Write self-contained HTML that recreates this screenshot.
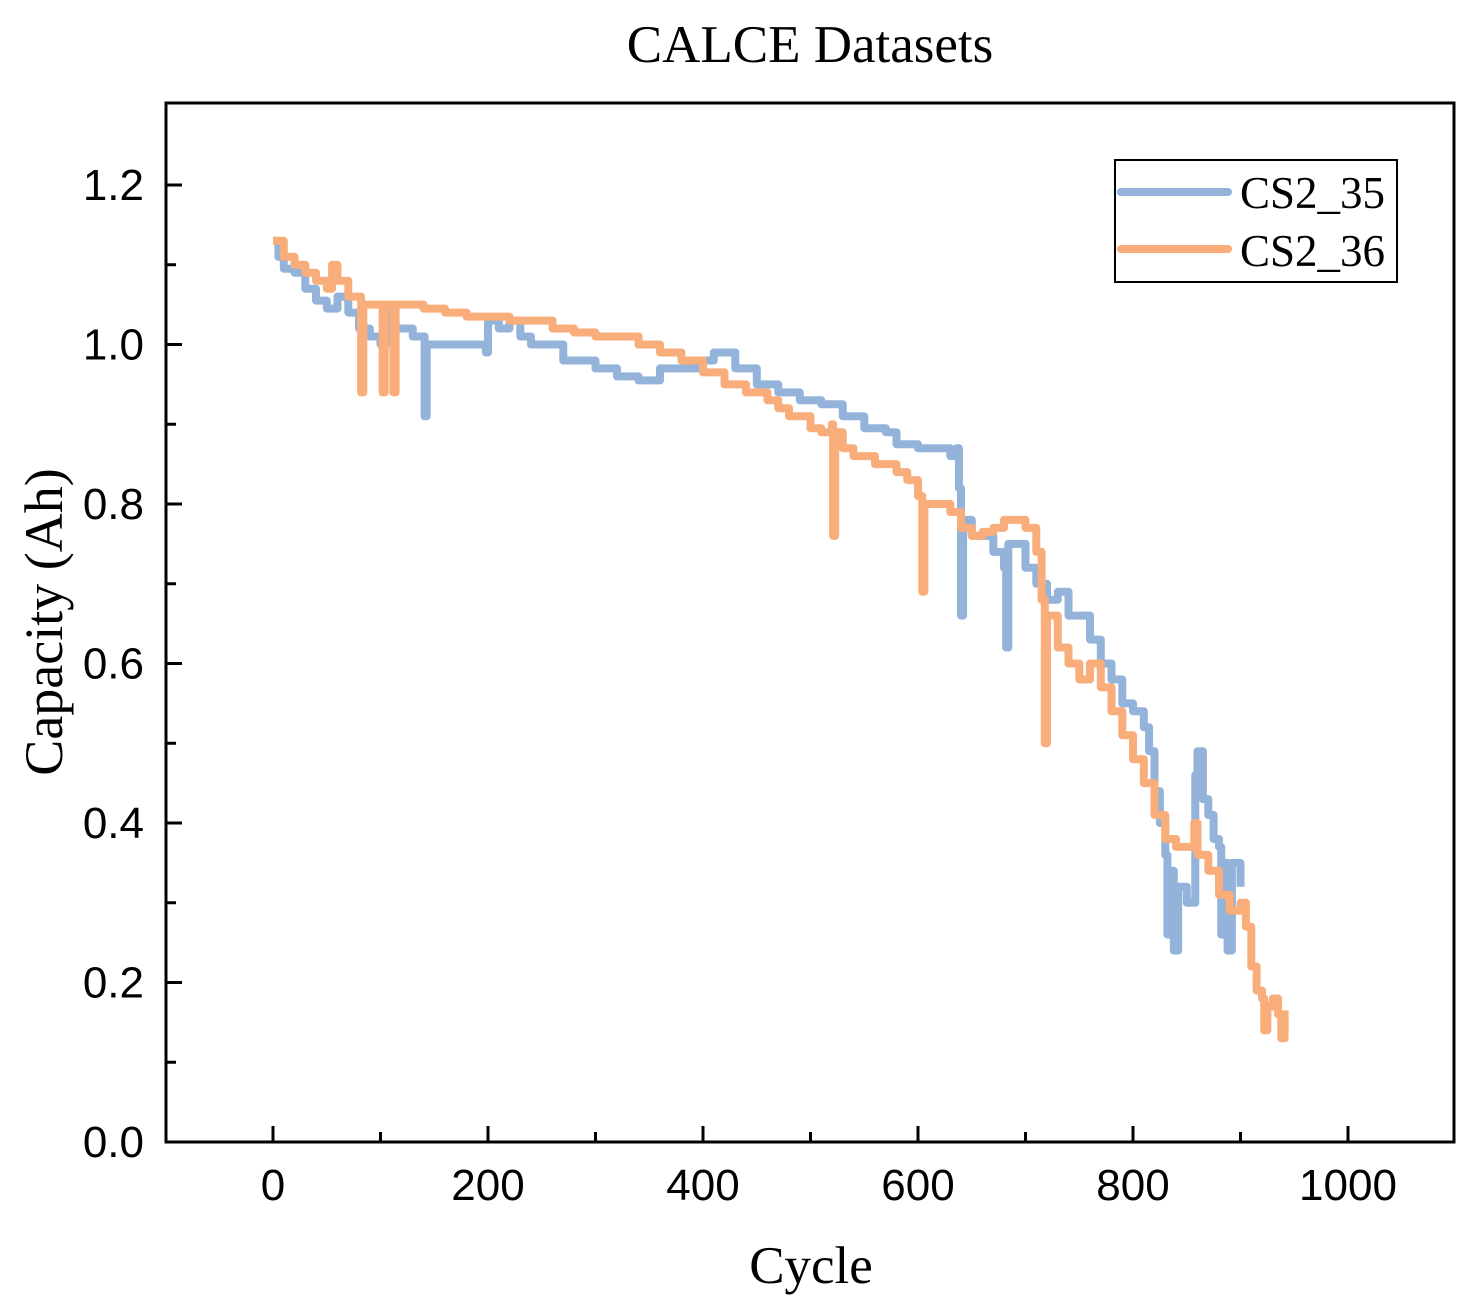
<!DOCTYPE html>
<html><head><meta charset="utf-8"><style>
body{margin:0;background:#fff}
svg{display:block}
.t{font-family:"Liberation Sans",sans-serif;font-size:44px;fill:#000}
.s{font-family:"Liberation Serif",serif;fill:#000}
</style></head><body>
<svg id="chart" width="1478" height="1314" viewBox="0 0 1478 1314" xmlns="http://www.w3.org/2000/svg">
<text class="s" x="810" y="62" font-size="53" text-anchor="middle">CALCE Datasets</text>
<g id="series"></g>
<rect x="166" y="103" width="1288" height="1039" fill="none" stroke="#000" stroke-width="3"/>
<g id="ticks"></g>
<text class="s" x="811" y="1283" font-size="53" text-anchor="middle">Cycle</text>
<text class="s" font-size="54" text-anchor="middle" transform="translate(62,622) rotate(-90)">Capacity (Ah)</text>
<g>
<rect x="1115" y="160" width="282" height="122" fill="#fff" stroke="#000" stroke-width="2"/>
<line x1="1121" y1="192" x2="1228" y2="192" stroke="#93b3da" stroke-width="8" stroke-linecap="round"/>
<text class="s" x="1240" y="208" font-size="45">CS2_35</text>
<line x1="1121" y1="249" x2="1228" y2="249" stroke="#f9ad7b" stroke-width="8" stroke-linecap="round"/>
<text class="s" x="1240" y="266" font-size="45">CS2_36</text>
</g>
</svg>
<script>
const xTicks=[0,200,400,600,800,1000];
const yTicks=[0.0,0.2,0.4,0.6,0.8,1.0,1.2];
const cs35Cycles=[0,5,10,20,30,40,50,60,70,80,90,100,105,110,120,130,140,141,143,160,180,198,200,210,220,230,240,260,270,300,320,340,360,380,400,410,430,450,470,490,510,530,550,570,580,600,620,630,636,638,640,642,650,670,680,682,684,700,710,720,730,740,760,770,780,790,800,810,815,820,825,830,832,835,838,842,850,855,858,860,865,870,875,880,882,885,888,892,900];
const cs35Cap=[1.13,1.11,1.095,1.09,1.07,1.055,1.045,1.06,1.04,1.02,1.01,1.0,1.04,1.02,1.02,1.01,1.01,0.91,1.0,1.0,1.0,0.99,1.03,1.02,1.03,1.01,1.0,1.0,0.98,0.97,0.96,0.955,0.97,0.97,0.98,0.99,0.97,0.95,0.94,0.93,0.925,0.91,0.895,0.89,0.875,0.87,0.87,0.86,0.87,0.82,0.66,0.78,0.76,0.74,0.72,0.62,0.75,0.72,0.7,0.68,0.69,0.66,0.63,0.6,0.58,0.55,0.54,0.52,0.49,0.44,0.4,0.36,0.26,0.34,0.24,0.32,0.3,0.3,0.46,0.49,0.43,0.41,0.38,0.37,0.26,0.35,0.24,0.35,0.32];
const cs36Cycles=[0,10,20,30,40,50,55,60,70,80,82,84,100,102,104,110,112,114,130,140,160,180,200,220,240,260,280,300,320,340,360,380,400,420,440,460,470,480,500,510,520,521,523,530,540,560,580,590,600,604,606,620,630,640,650,660,670,680,700,710,715,718,720,730,740,750,760,770,780,790,800,810,820,830,840,850,857,860,870,880,890,900,905,910,915,920,922,925,930,935,938,941];
const cs36Cap=[1.13,1.11,1.1,1.09,1.08,1.07,1.1,1.08,1.06,1.06,0.94,1.05,1.05,0.94,1.05,1.05,0.94,1.05,1.05,1.045,1.04,1.035,1.035,1.03,1.03,1.02,1.015,1.01,1.01,1.0,0.99,0.98,0.965,0.95,0.94,0.93,0.92,0.91,0.895,0.89,0.9,0.76,0.89,0.87,0.86,0.85,0.84,0.83,0.81,0.69,0.8,0.8,0.79,0.77,0.76,0.765,0.77,0.78,0.77,0.74,0.68,0.5,0.66,0.62,0.6,0.58,0.6,0.57,0.54,0.51,0.48,0.45,0.41,0.38,0.37,0.37,0.4,0.36,0.34,0.31,0.29,0.3,0.27,0.22,0.19,0.18,0.14,0.17,0.18,0.16,0.13,0.165];
const NS='http://www.w3.org/2000/svg';
const xs=v=>273+v*1.075;
const ys=v=>1142-v*(957/1.2);
const g=document.getElementById('series');
function drawLine(cx,cy,color,name){
  let d='';
  for(let i=0;i<cx.length;i++){
    if(i>0) d+='L'+xs(cx[i]).toFixed(1)+','+ys(cy[i-1]).toFixed(1);
    d+=(i?'L':'M')+xs(cx[i]).toFixed(1)+','+ys(cy[i]).toFixed(1);
  }
  const p=document.createElementNS(NS,'path');
  p.setAttribute('d',d);p.setAttribute('fill','none');p.setAttribute('stroke',color);
  p.setAttribute('stroke-width','8');p.setAttribute('stroke-linejoin','round');
  
  
  g.appendChild(p);
}
drawLine(cs35Cycles,cs35Cap,'#93b3da','line-cs2-35');
drawLine(cs36Cycles,cs36Cap,'#f9ad7b','line-cs2-36');
const t=document.getElementById('ticks');
function mk(tag,attrs){const e=document.createElementNS(NS,tag);for(const k in attrs)e.setAttribute(k,attrs[k]);t.appendChild(e);return e;}
xTicks.forEach((v,i)=>{
  const l=mk('line',{x1:xs(v),x2:xs(v),y1:1142,y2:1126,stroke:'#000','stroke-width':3});
  
  
  if(i<xTicks.length-1){
    const m=mk('line',{x1:xs(v+100),x2:xs(v+100),y1:1142,y2:1132,stroke:'#000','stroke-width':3});
    
    
  }
  const tx=mk('text',{x:xs(v),y:1200,'text-anchor':'middle',class:'t'});tx.textContent=v;
  
  
});
yTicks.forEach((v,i)=>{
  const l=mk('line',{x1:166,x2:182,y1:ys(v),y2:ys(v),stroke:'#000','stroke-width':3});
  
  
  if(i<yTicks.length-1){
    const m=mk('line',{x1:166,x2:176,y1:ys(v+0.1),y2:ys(v+0.1),stroke:'#000','stroke-width':3});
    
    
  }
  const tx=mk('text',{x:144,y:ys(v)+15,'text-anchor':'end',class:'t'});tx.textContent=v.toFixed(1);
  
  
});
</script>
</body></html>
